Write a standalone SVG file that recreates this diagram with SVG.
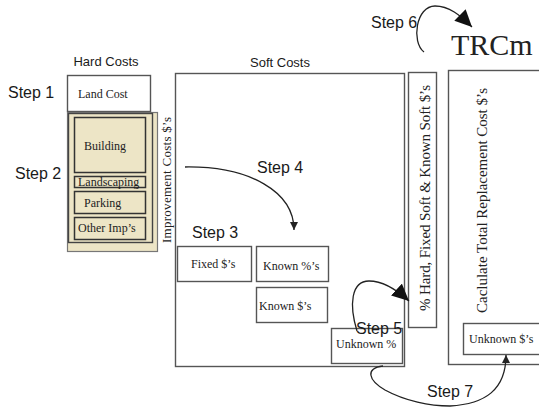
<svg xmlns="http://www.w3.org/2000/svg" width="539" height="407" viewBox="0 0 539 407">
<style>
.lbl{font-family:"Liberation Sans","DejaVu Sans",sans-serif;fill:#1a1a1a}
.step{font-size:16px}
.hd{font-size:13px}
.sr{font-family:"Liberation Serif","DejaVu Serif",serif;fill:#222}
.box{fill:#fff;stroke:#555;stroke-width:1.4}
.tan{fill:#ede5c6;stroke:#333;stroke-width:1.5}
.conn{fill:none;stroke:#222;stroke-width:1.3}
</style>
<defs>
<marker id="sm" markerUnits="userSpaceOnUse" markerWidth="10" markerHeight="10" refX="8" refY="4" orient="auto">
<path d="M0,0 L8,4 L0,8 z" fill="#222"/>
</marker>
<marker id="bg" markerUnits="userSpaceOnUse" markerWidth="20" markerHeight="18" refX="17" refY="8" orient="auto">
<path d="M0,0 L17,8 L0,16 z" fill="#111"/>
</marker>
</defs>

<text class="lbl hd" x="106" y="66" text-anchor="middle">Hard Costs</text>
<text class="lbl hd" x="280" y="67" text-anchor="middle">Soft Costs</text>

<g id="land-cost">
<rect class="box" x="67.5" y="75.5" width="83" height="36"/>
<text class="sr" x="78" y="98" font-size="12">Land Cost</text>
</g>

<g id="improvements">
<rect x="67.5" y="112.5" width="90" height="139" fill="#ede5c6" stroke="#777" stroke-width="1.2"/>
<rect x="68.5" y="113.5" width="84" height="129" fill="#ede5c6" stroke="#444" stroke-width="1.4"/>
<text class="sr" font-size="13" textLength="126" transform="translate(171,243) rotate(-90)">Improvement Costs $’s</text>
</g>
<g id="building">
<rect class="tan" x="74.5" y="117.5" width="71" height="55"/>
<text class="sr" x="84" y="150" font-size="12">Building</text>
</g>
<g id="landscaping">
<rect class="tan" x="74.5" y="176.5" width="71" height="11"/>
<text class="sr" x="78" y="186" font-size="12">Landscaping</text>
</g>
<g id="parking">
<rect class="tan" x="74.5" y="191.5" width="71" height="22"/>
<text class="sr" x="84" y="207" font-size="12">Parking</text>
</g>
<g id="other-imps">
<rect class="tan" x="74.5" y="217.5" width="71" height="22"/>
<text class="sr" x="78" y="232" font-size="12">Other Imp’s</text>
</g>

<g id="soft-costs">
<rect class="box" x="175.5" y="73.5" width="229" height="293" stroke-width="1.6"/>
</g>
<g id="fixed">
<rect class="box" x="177.5" y="246.5" width="74" height="35"/>
<text class="sr" x="191" y="268" font-size="12">Fixed $’s</text>
</g>
<g id="known-pct">
<rect class="box" x="256.5" y="246.5" width="72" height="35"/>
<text class="sr" x="263" y="270" font-size="12">Known %’s</text>
</g>
<g id="known-dollars">
<rect class="box" x="256.5" y="287.5" width="71" height="35"/>
<text class="sr" x="259" y="310" font-size="12">Known $’s</text>
</g>
<g id="unknown-pct">
<rect class="box" x="331.5" y="328.5" width="71" height="35"/>
<text class="sr" x="336" y="348" font-size="12">Unknown %</text>
</g>

<g id="pct-hard">
<rect class="box" x="408.5" y="72.5" width="28" height="255"/>
<text class="sr" font-size="15" textLength="226" transform="translate(430,311) rotate(-90)">% Hard, Fixed Soft &amp; Known Soft $’s</text>
</g>
<g id="total">
<rect class="box" x="448.5" y="70.5" width="95" height="294"/>
<text class="sr" font-size="15" textLength="225" transform="translate(487,313) rotate(-90)">Caclulate Total Replacement Cost $’s</text>
</g>
<g id="unknown-dollars">
<rect class="box" x="463.5" y="323.5" width="80" height="31"/>
<text class="sr" x="469" y="343" font-size="12">Unknown $’s</text>
</g>
<g id="trcm">
<text class="sr" x="451" y="55" font-size="30">TRCm</text>
</g>

<text class="lbl step" x="8" y="98">Step 1</text>
<text class="lbl step" x="15" y="179">Step 2</text>
<text class="lbl step" x="192" y="238">Step 3</text>
<text class="lbl step" x="257" y="173">Step 4</text>
<text class="lbl step" x="356" y="334">Step 5</text>
<text class="lbl step" x="371" y="28">Step 6</text>
<text class="lbl step" x="427" y="397">Step 7</text>

<g id="connectors">
<path class="conn" marker-end="url(#sm)" d="M185,167 C250,166 294,192 294,230"/>
<path class="conn" marker-end="url(#bg)" d="M357,331 C349,305 351,281 369,281 C384,281 397,290 409,301"/>
<path class="conn" marker-end="url(#bg)" d="M424,52 C411,42 416,6 435,6 C449,6 460,15 472,27"/>
<path class="conn" marker-end="url(#sm)" d="M383,366 C365,368 368,380 385,390 C405,401 430,406 450,406 C485,404 506,390 506,355"/>
</g>
</svg>
